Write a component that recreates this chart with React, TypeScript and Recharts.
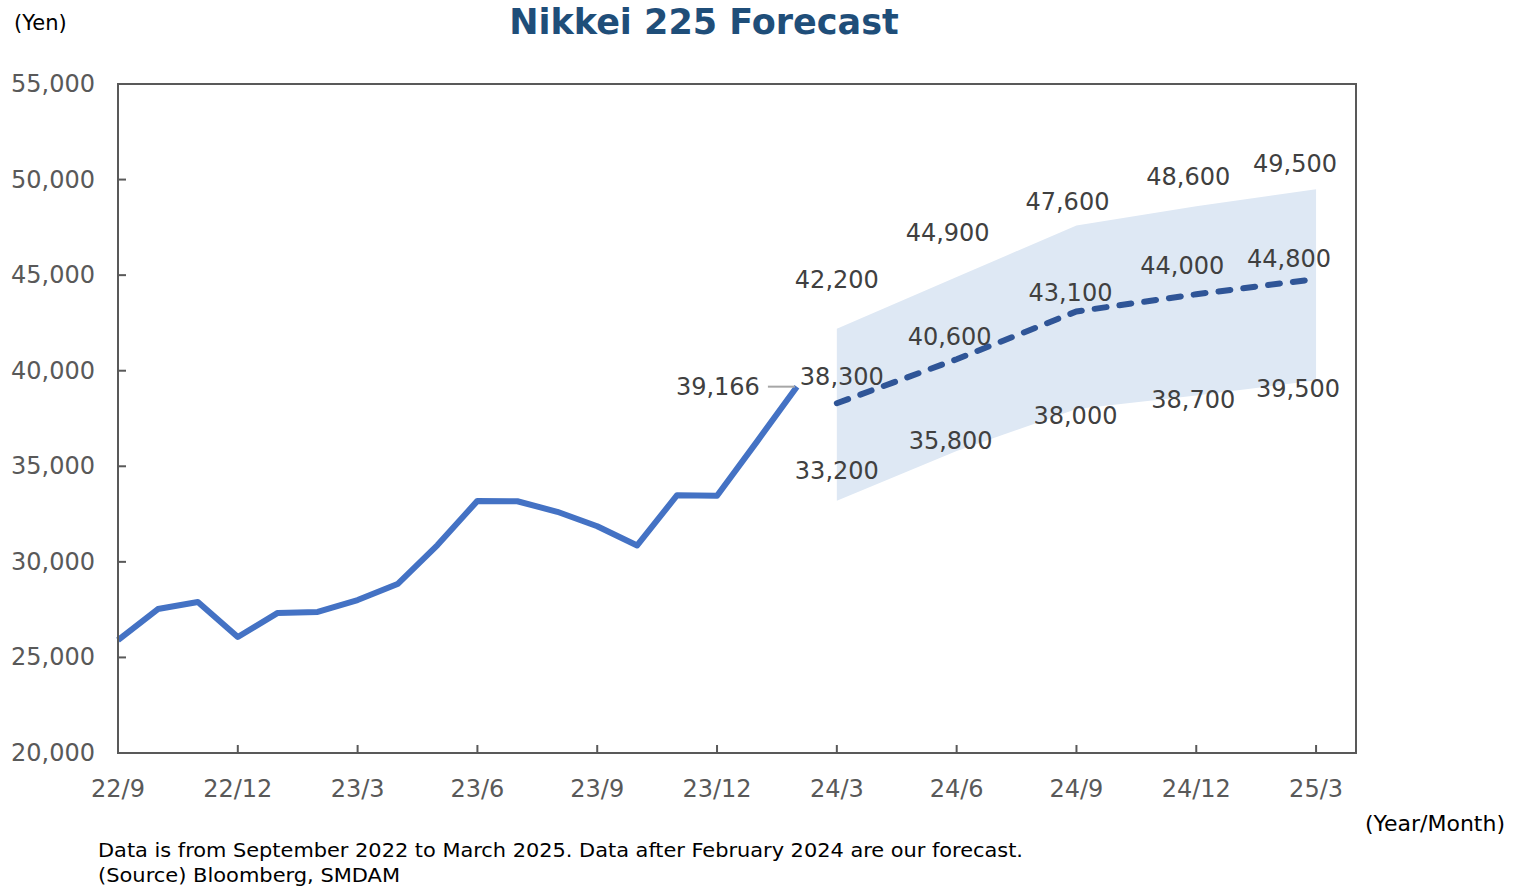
import { Area, ComposedChart, Line, ReferenceArea, XAxis, YAxis } from "recharts"

// months 22/9 .. 25/4, index = position on the x axis
const monthLabels: string[] = []
for (let i = 0; i < 32; i++) {
  const y = 22 + Math.floor((8 + i) / 12)
  const mo = ((8 + i) % 12) + 1
  monthLabels.push(`${y}/${mo}`)
}

const actualMonths = ["22/9", "22/10", "22/11", "22/12", "23/1", "23/2", "23/3", "23/4", "23/5", "23/6", "23/7", "23/8", "23/9", "23/10", "23/11", "23/12", "24/1", "24/2"]
const actualValues = [25910, 27530, 27900, 26070, 27330, 27380, 28000, 28840, 30880, 33190, 33170, 32620, 31860, 30860, 33490, 33460, 36290, 39166]

const forecastMonths = ["24/3", "24/6", "24/9", "24/12", "25/3"]
const forecastMid = [38300, 40600, 43100, 44000, 44800]
const forecastHigh = [42200, 44900, 47600, 48600, 49500]
const forecastLow = [33200, 35800, 38000, 38700, 39500]

const xTickLabels = ["22/9", "22/12", "23/3", "23/6", "23/9", "23/12", "24/3", "24/6", "24/9", "24/12", "25/3"]
const yTicks = [20000, 25000, 30000, 35000, 40000, 45000, 50000, 55000]

// label nudges (dx, dy) for the forecast labels
const highOffsets = [[0, -49], [-9, -44], [-9, -23], [-8, -29], [-21, -25]]
const midOffsets = [[5, -26], [-7, -22], [-6, -18], [-14, -28], [-27, -20]]
const lowOffsets = [[0, -30], [-6, -10], [-1, 7], [-3, 4], [-18, 9]]

const rows: any[] = [
  ...actualMonths.map((m, i) => ({ m: monthLabels.indexOf(m), actual: actualValues[i] })),
  ...forecastMonths.map((m, i) => ({
    m: monthLabels.indexOf(m),
    mid: forecastMid[i],
    high: forecastHigh[i],
    low: forecastLow[i],
    band: [forecastLow[i], forecastHigh[i]],
  })),
]

const FONT = "'DejaVu Sans', Verdana, sans-serif"
const AXIS = "#595959"

const fmt = (v: number) => v.toLocaleString("en-US")

const XTick = ({ x, y, payload }: any) => (
  <g>
    <line x1={x} x2={x} y1={y} y2={y - 8} stroke={AXIS} strokeWidth={2} />
    <text x={x} y={y + 36} textAnchor="middle" dominantBaseline="central" fontFamily={FONT} fontSize={24} fill={AXIS}>
      {monthLabels[payload.value]}
    </text>
  </g>
)

const YTick = ({ x, y, payload }: any) => (
  <g>
    <line x1={x} x2={x + 8} y1={y} y2={y} stroke={AXIS} strokeWidth={2} />
    <text x={x - 23} y={y} textAnchor="end" dominantBaseline="central" fontFamily={FONT} fontSize={24} fill={AXIS}>
      {fmt(payload.value)}
    </text>
  </g>
)

const forecastLabel = (offsets: number[][]) => (p: any) => {
  const { x, y, value, index } = p
  const k = index - actualMonths.length
  if (value == null || k < 0 || x == null) return <g key={`l-${index}`} />
  const [dx, dy] = offsets[k]
  return (
    <text key={`l-${index}`} x={x + dx} y={y + dy} textAnchor="middle" dominantBaseline="central" fontFamily={FONT} fontSize={24} fill="#404040">
      {fmt(value)}
    </text>
  )
}

const lastActualLabel = (p: any) => {
  const { x, y, value, index } = p
  if (index !== actualMonths.length - 1 || value == null) return <g key={`a-${index}`} />
  return (
    <g key={`a-${index}`}>
      <line x1={x - 29} x2={x - 2} y1={y} y2={y} stroke="#A6A6A6" strokeWidth={2} />
      <text x={x - 37} y={y} textAnchor="end" dominantBaseline="central" fontFamily={FONT} fontSize={24} fill="#404040">
        {fmt(value)}
      </text>
    </g>
  )
}

export default function App() {
  return (
    <div style={{ position: "absolute", left: 0, top: 0, width: 1516, height: 888, background: "#fff" }}>
      <ComposedChart width={1516} height={888} data={rows} margin={{ top: 84, right: 160, bottom: 134, left: 117 }}>
        <XAxis
          dataKey="m"
          type="number"
          domain={[0, 31]}
          ticks={xTickLabels.map((t) => monthLabels.indexOf(t))}
          interval={0}
          height={1}
          tickSize={0}
          tickMargin={0}
          tickLine={false}
          tick={<XTick />}
          axisLine={{ stroke: AXIS, strokeWidth: 2 }}
        />
        <YAxis
          type="number"
          domain={[20000, 55000]}
          ticks={yTicks}
          interval={0}
          width={1}
          tickSize={0}
          tickMargin={0}
          tickLine={false}
          tick={<YTick />}
          axisLine={{ stroke: AXIS, strokeWidth: 2 }}
        />
        <Area
          dataKey="band"
          type="linear"
          fill="#DEE8F4"
          fillOpacity={1}
          stroke="none"
          dot={false}
          activeDot={false}
          isAnimationActive={false}
        />
        <ReferenceArea x1={0} x2={31} y1={20000} y2={55000} fill="none" stroke={AXIS} strokeWidth={2} />
        <Line
          dataKey="actual"
          type="linear"
          stroke="#4472C4"
          strokeWidth={6}
          strokeLinejoin="round"
          dot={false}
          activeDot={false}
          label={lastActualLabel}
          isAnimationActive={false}
        />
        <Line
          dataKey="mid"
          type="linear"
          stroke="#2F5597"
          strokeWidth={6}
          strokeDasharray="12 13"
          strokeLinecap="round"
          dot={false}
          activeDot={false}
          label={forecastLabel(midOffsets)}
          isAnimationActive={false}
        />
        <Line dataKey="high" stroke="none" dot={false} activeDot={false} label={forecastLabel(highOffsets)} isAnimationActive={false} />
        <Line dataKey="low" stroke="none" dot={false} activeDot={false} label={forecastLabel(lowOffsets)} isAnimationActive={false} />
      </ComposedChart>

      <svg width={1516} height={888} style={{ position: "absolute", left: 0, top: 0, pointerEvents: "none" }}>
        <text x={704} y={22} textAnchor="middle" dominantBaseline="central" fontFamily={FONT} fontWeight="bold" fontSize={35} fill="#1F4E79">
          Nikkei 225 Forecast
        </text>
        <text x={14} y={23} dominantBaseline="central" fontFamily={FONT} fontSize={21} fill="#000">
          (Yen)
        </text>
        <text x={1505} y={823} textAnchor="end" dominantBaseline="central" fontFamily={FONT} fontSize={22} fill="#000">
          (Year/Month)
        </text>
        <text x={98} y={857} fontFamily="'DejaVu Sans Condensed', 'Liberation Sans Narrow', sans-serif" fontSize={20} fill="#000" textLength={925} lengthAdjust="spacingAndGlyphs">
          Data is from September 2022 to March 2025.  Data after February 2024 are our forecast.
        </text>
        <text x={98} y={882} fontFamily="'DejaVu Sans Condensed', 'Liberation Sans Narrow', sans-serif" fontSize={20} fill="#000" textLength={302} lengthAdjust="spacingAndGlyphs">
          (Source) Bloomberg, SMDAM
        </text>
      </svg>
    </div>
  )
}
